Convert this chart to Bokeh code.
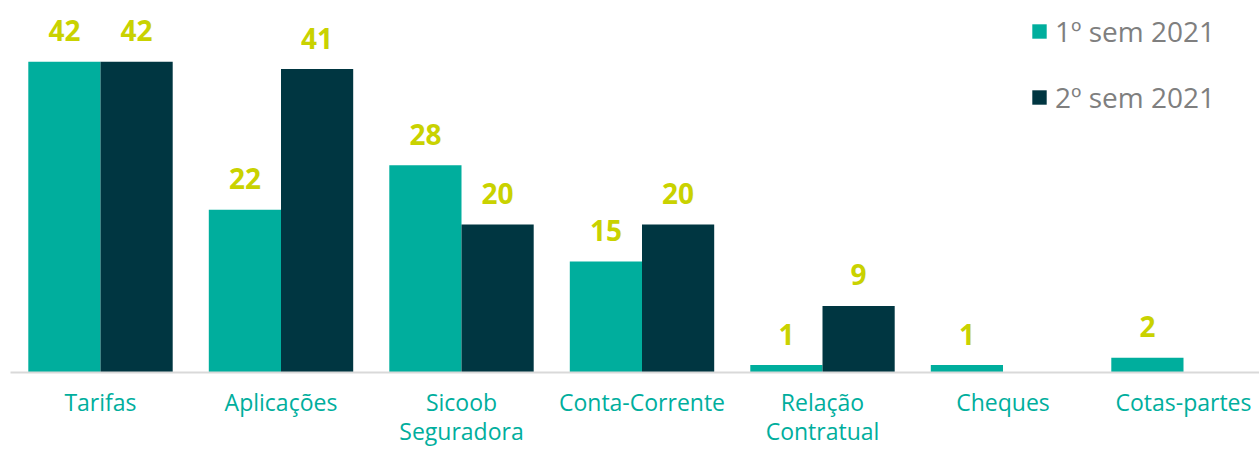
from bokeh.plotting import figure
from bokeh.models import Range1d, FixedTicker, Legend, LegendItem, ColumnDataSource
from bokeh.core.properties import value
from bokeh.embed import file_html
from bokeh.resources import INLINE

categories = ["Tarifas", "Aplicações", "Sicoob\nSeguradora", "Conta-Corrente",
              "Relação\nContratual", "Cheques", "Cotas-partes"]
sem1 = [42, 22, 28, 15, 1, 1, 2]
sem2 = [42, 41, 20, 20, 9, None, None]
series_names = ["1º sem 2021", "2º sem 2021"]
series_colors = ["#00AE9D", "#003641"]

FONT = "Open Sans"
PX_PER_CAT = 180.5
PX_PER_UNIT = 7.4
W, H = 1259, 450
BASE_Y = 372  # baseline position from the top, in pixels
x0 = -100 / PX_PER_CAT
x1 = x0 + W / PX_PER_CAT
y0 = -(H - BASE_Y) / PX_PER_UNIT
y1 = BASE_Y / PX_PER_UNIT

p = figure(width=W, height=H, output_backend="svg", toolbar_location=None,
           x_range=Range1d(x0, x1), y_range=Range1d(y0, y1),
           y_axis_location=None, min_border_left=0, min_border_right=0,
           min_border_top=0, min_border_bottom=0)
p.outline_line_color = None
p.xgrid.visible = False
p.ygrid.visible = False
p.background_fill_color = "white"
p.border_fill_color = "white"

renderers = []
for vals, off, color in zip([sem1, sem2], [-0.2, 0.2], series_colors):
    xs = [i + off for i, v in enumerate(vals) if v is not None]
    tops = [v for v in vals if v is not None]
    src = ColumnDataSource(dict(x=xs, top=tops, label=[str(v) for v in tops]))
    r = p.vbar(x="x", top="top", bottom=0, width=0.4, source=src,
               fill_color=color, line_color=None)
    renderers.append(r)
    p.text(x="x", y="top", text="label", source=src, text_align="center",
           text_baseline="alphabetic", y_offset=-31,
           text_font=value(FONT), text_font_style="bold",
           text_font_size="28px", text_color="#C9D200")

ax = p.xaxis[0]
ax.fixed_location = 0
ax.ticker = FixedTicker(ticks=list(range(len(categories))))
ax.major_label_overrides = {i: c for i, c in enumerate(categories)}
ax.bounds = (-0.5, len(categories) - 0.5)
ax.axis_line_color = "#D9D9D9"
ax.axis_line_width = 2
ax.major_tick_line_color = None
ax.minor_tick_line_color = None
ax.major_tick_in = 0
ax.major_tick_out = 0
ax.minor_tick_in = 0
ax.minor_tick_out = 0
ax.major_label_standoff = 13
ax.major_label_text_font = FONT
ax.major_label_text_font_size = "23px"
ax.major_label_text_color = "#00AE9D"
ax.major_label_text_line_height = 0.93

legend = Legend(items=[LegendItem(label=n, renderers=[r]) for n, r in zip(series_names, renderers)],
                location=(1030, 334), glyph_width=18, glyph_height=18,
                label_text_font=FONT, label_text_font_size="28px",
                label_text_color="#7F7F7F", label_standoff=7, spacing=28,
                padding=0, margin=0, border_line_color=None,
                background_fill_alpha=0)
p.add_layout(legend)

open("out.html", "w").write(file_html(p, INLINE))
